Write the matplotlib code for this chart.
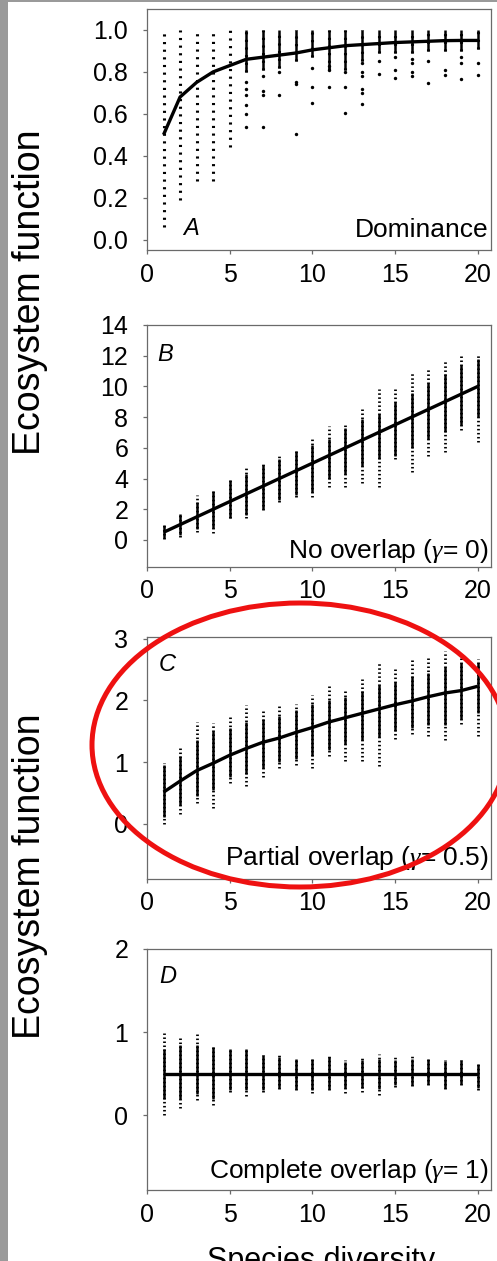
"""plot.py - diversity vs ecosystem function, four overlap scenarios (A-D)."""
import matplotlib
matplotlib.use("Agg")
import matplotlib.pyplot as plt
import numpy as np
from matplotlib.patches import Ellipse, Rectangle

plt.rcParams["font.family"] = ["Liberation Sans", "DejaVu Sans"]
plt.rcParams["mathtext.fontset"] = "custom"
plt.rcParams["mathtext.it"] = "Liberation Serif:italic"
plt.rcParams["mathtext.rm"] = "Liberation Sans"

NAN = float("nan")
species = list(range(1, 21))

# ── Panel A: Dominance ───────────────────────────────────────────────────────
a_mean = [0.50, 0.68, 0.75, 0.80, 0.83, 0.86, 0.87, 0.88, 0.89, 0.905,
          0.915, 0.925, 0.93, 0.935, 0.94, 0.943, 0.946, 0.949, 0.95, 0.95]
a_hi = [1.0, 1.0, 1.0, 1.0, 1.0, 1.0, 1.0, 1.0, 1.0, 1.0,
        1.0, 1.0, 1.0, 1.0, 1.0, 1.0, 1.0, 1.0, 1.0, 1.0]
a_lo = [0.06, 0.19, 0.28, 0.28, 0.44, 0.80, 0.81, 0.82, 0.85, 0.87,
        0.81, 0.81, 0.85, 0.89, 0.89, 0.89, 0.90, 0.90, 0.90, 0.91]
a_core_lo = [NAN, NAN, NAN, NAN, NAN, 0.80, 0.81, 0.82, 0.85, 0.87,
             0.81, 0.81, 0.85, 0.89, 0.89, 0.89, 0.90, 0.90, 0.90, 0.91]
a_core_hi = a_hi
a_out_x = [6, 6, 6, 6, 6, 6, 7, 7, 7, 7, 8, 8, 9, 9, 9, 10, 10, 10,
           11, 11, 11, 12, 12, 12, 13, 13, 13, 13, 13, 13, 14, 14,
           15, 15, 15, 16, 16, 16, 16, 17, 17, 18, 18, 19, 19, 19, 20, 20]
a_out_y = [0.75, 0.72, 0.69, 0.64, 0.60, 0.535, 0.78, 0.71, 0.69, 0.535,
           0.80, 0.69, 0.75, 0.74, 0.505, 0.82, 0.73, 0.65,
           0.83, 0.81, 0.73, 0.80, 0.73, 0.605, 0.84, 0.80, 0.78, 0.72, 0.70, 0.645,
           0.85, 0.79, 0.87, 0.81, 0.77, 0.86, 0.84, 0.80, 0.78, 0.85, 0.745,
           0.81, 0.785, 0.87, 0.84, 0.765, 0.84, 0.785]

# ── Panel B: No overlap ──────────────────────────────────────────────────────
b_mean = [0.5, 1.0, 1.5, 2.0, 2.5, 3.0, 3.5, 4.0, 4.5, 5.0,
          5.5, 6.0, 6.5, 7.0, 7.5, 8.0, 8.5, 9.0, 9.5, 10.0]
b_lo = [0.05, 0.17, 0.54, 0.43, 1.41, 1.41, 1.95, 2.5, 2.82, 2.82,
        3.47, 3.47, 3.7, 3.47, 5.3, 4.45, 5.5, 5.75, 7.16, 6.4]
b_hi = [0.98, 1.78, 2.93, 3.3, 3.95, 4.73, 4.95, 5.47, 5.92, 6.69,
        7.42, 7.6, 8.5, 9.8, 9.98, 10.85, 11.2, 11.7, 12.1, 12.05]
b_core_lo = [0.1, 0.3, 0.7, 0.8, 1.4, 1.6, 2.0, 2.6, 2.9, 3.1,
             4.0, 4.3, 4.8, 5.3, 5.5, 6.0, 6.6, 7.0, 7.5, 8.0]
b_core_hi = [0.95, 1.7, 2.5, 3.2, 3.9, 4.3, 4.9, 5.3, 5.8, 6.2,
             6.6, 7.3, 7.9, 8.2, 9.0, 9.6, 10.2, 10.8, 11.4, 11.8]

# ── Panel C: Partial overlap ─────────────────────────────────────────────────
c_mean = [0.51, 0.69, 0.86, 0.98, 1.11, 1.22, 1.32, 1.39, 1.48, 1.56,
          1.65, 1.72, 1.79, 1.86, 1.93, 1.99, 2.06, 2.12, 2.16, 2.23]
c_lo = [0.0, 0.15, 0.34, 0.26, 0.66, 0.61, 0.75, 0.9, 0.95, 0.91,
        1.09, 1.02, 1.02, 0.93, 1.38, 1.46, 1.43, 1.35, 1.62, 1.42]
c_hi = [0.98, 1.26, 1.65, 1.63, 1.74, 1.92, 1.84, 1.94, 1.95, 2.09,
        2.23, 2.17, 2.34, 2.61, 2.55, 2.69, 2.69, 2.81, 2.76, 2.68]
c_core_lo = [0.1, 0.3, 0.45, 0.55, 0.75, 0.8, 0.9, 1.0, 1.05, 1.1,
             1.2, 1.3, 1.35, 1.4, 1.5, 1.55, 1.6, 1.6, 1.7, 1.8]
c_core_hi = [0.95, 1.1, 1.35, 1.5, 1.55, 1.65, 1.7, 1.75, 1.85, 1.95,
             2.0, 2.05, 2.15, 2.25, 2.3, 2.4, 2.45, 2.55, 2.6, 2.6]

# ── Panel D: Complete overlap ────────────────────────────────────────────────
d_mean = [0.5, 0.5, 0.5, 0.5, 0.5, 0.5, 0.5, 0.5, 0.5, 0.5,
          0.5, 0.5, 0.5, 0.5, 0.5, 0.5, 0.5, 0.5, 0.5, 0.5]
d_lo = [0.0, 0.09, 0.18, 0.12, 0.28, 0.23, 0.28, 0.32, 0.30, 0.27,
        0.30, 0.27, 0.28, 0.24, 0.34, 0.35, 0.36, 0.31, 0.36, 0.30]
d_hi = [0.99, 0.93, 0.98, 0.84, 0.81, 0.81, 0.73, 0.72, 0.69, 0.69,
        0.71, 0.66, 0.69, 0.74, 0.71, 0.71, 0.70, 0.66, 0.67, 0.63]
d_core_lo = [0.2, 0.2, 0.25, 0.2, 0.3, 0.3, 0.3, 0.33, 0.32, 0.3,
             0.32, 0.33, 0.33, 0.32, 0.36, 0.36, 0.37, 0.33, 0.37, 0.33]
d_core_hi = [0.8, 0.85, 0.85, 0.82, 0.8, 0.8, 0.72, 0.7, 0.68, 0.68,
             0.7, 0.64, 0.66, 0.68, 0.66, 0.68, 0.68, 0.65, 0.66, 0.62]

x_ticks = [0, 5, 10, 15, 20]

W, H = 497, 1261
SPINE = "#6a6a6a"


def _box(top, bottom, left=147, right=491):
    return [left / W, 1 - bottom / H, (right - left) / W, (bottom - top) / H]


def _panel(fig, rect, ylim, yticks, yfmt, mean, lo, hi, core_lo, core_hi,
           letter, letter_pos, note, note_y, dots=(0, (0.55, 0.9)), dot_lw=2.0):
    ax = fig.add_axes(rect)
    ax.vlines(species, lo, hi, colors="black", linewidth=dot_lw, linestyles=[dots])
    ax.vlines(species, core_lo, core_hi, colors="black", linewidth=1.8)
    ax.plot(species, mean, color="black", linewidth=2.4, solid_capstyle="butt")
    ax.set_xlim(0, 20.8)
    ax.set_ylim(*ylim)
    ax.set_xticks(x_ticks)
    ax.set_yticks(yticks)
    ax.set_yticklabels([yfmt.format(v) for v in yticks])
    for s in ax.spines.values():
        s.set_color(SPINE)
        s.set_linewidth(0.9)
    ax.tick_params(axis="both", labelsize=18, direction="out", length=3,
                   width=0.9, color=SPINE)
    ax.tick_params(axis="y", pad=10.5)
    ax.tick_params(axis="x", pad=6.0)
    ax.text(letter_pos[0], letter_pos[1], letter, transform=ax.transAxes,
            fontsize=17, style="italic", ha="left", va="top")
    ax.text(0.994, note_y, note, transform=ax.transAxes, fontsize=19,
            ha="right", va="baseline")
    return ax


fig = plt.figure(figsize=(W / 100, H / 100), dpi=100)

# grey scan border
fig.patches.append(Rectangle((0, 0), 8 / W, 1, transform=fig.transFigure,
                             facecolor="#9a9a9a", edgecolor="none", zorder=0))
fig.patches.append(Rectangle((0, 1 - 2 / H), 1, 2 / H, transform=fig.transFigure,
                             facecolor="#9a9a9a", edgecolor="none", zorder=0))

ax_a = _panel(fig, _box(9, 250), (-0.05, 1.1), [0.0, 0.2, 0.4, 0.6, 0.8, 1.0], "{:.1f}",
              a_mean, a_lo, a_hi, a_core_lo, a_core_hi,
              "A", (0.105, 0.135), "Dominance", 0.054,
              dots=(0, (0.7, 1.8)), dot_lw=2.2)
ax_a.scatter(a_out_x, a_out_y, s=6, color="black", linewidths=0)

_panel(fig, _box(325, 567), (-1.76, 14), [0, 2, 4, 6, 8, 10, 12, 14], "{:d}",
       b_mean, b_lo, b_hi, b_core_lo, b_core_hi,
       "B", (0.03, 0.925), r"No overlap ($\gamma$= 0)", 0.037)

_panel(fig, _box(637, 879), (-0.9, 3.03), [0, 1, 2, 3], "{:d}",
       c_mean, c_lo, c_hi, c_core_lo, c_core_hi,
       "C", (0.035, 0.935), r"Partial overlap ($\gamma$= 0.5)", 0.058)

_panel(fig, _box(949, 1190), (-0.9, 2.0), [0, 1, 2], "{:d}",
       d_mean, d_lo, d_hi, d_core_lo, d_core_hi,
       "D", (0.035, 0.935), r"Complete overlap ($\gamma$= 1)", 0.05)

# shared axis labels
for yc in (292, 876):
    fig.text(40 / W, 1 - yc / H, "Ecosystem function", rotation=90,
             rotation_mode="anchor", ha="center", va="baseline", fontsize=27)
# the reference crops this label at the bottom edge
fig.text(321 / W, 1 - 1269 / H, "Species diversity", ha="center",
         va="baseline", fontsize=22)

# red highlight around panel C
fig.patches.append(Ellipse((300 / W, 1 - 745 / H), 416 / W, 284 / H,
                           transform=fig.transFigure, fill=False,
                           edgecolor="#ee1111", linewidth=3.6, zorder=10))

fig.savefig("out.png", dpi=100)
